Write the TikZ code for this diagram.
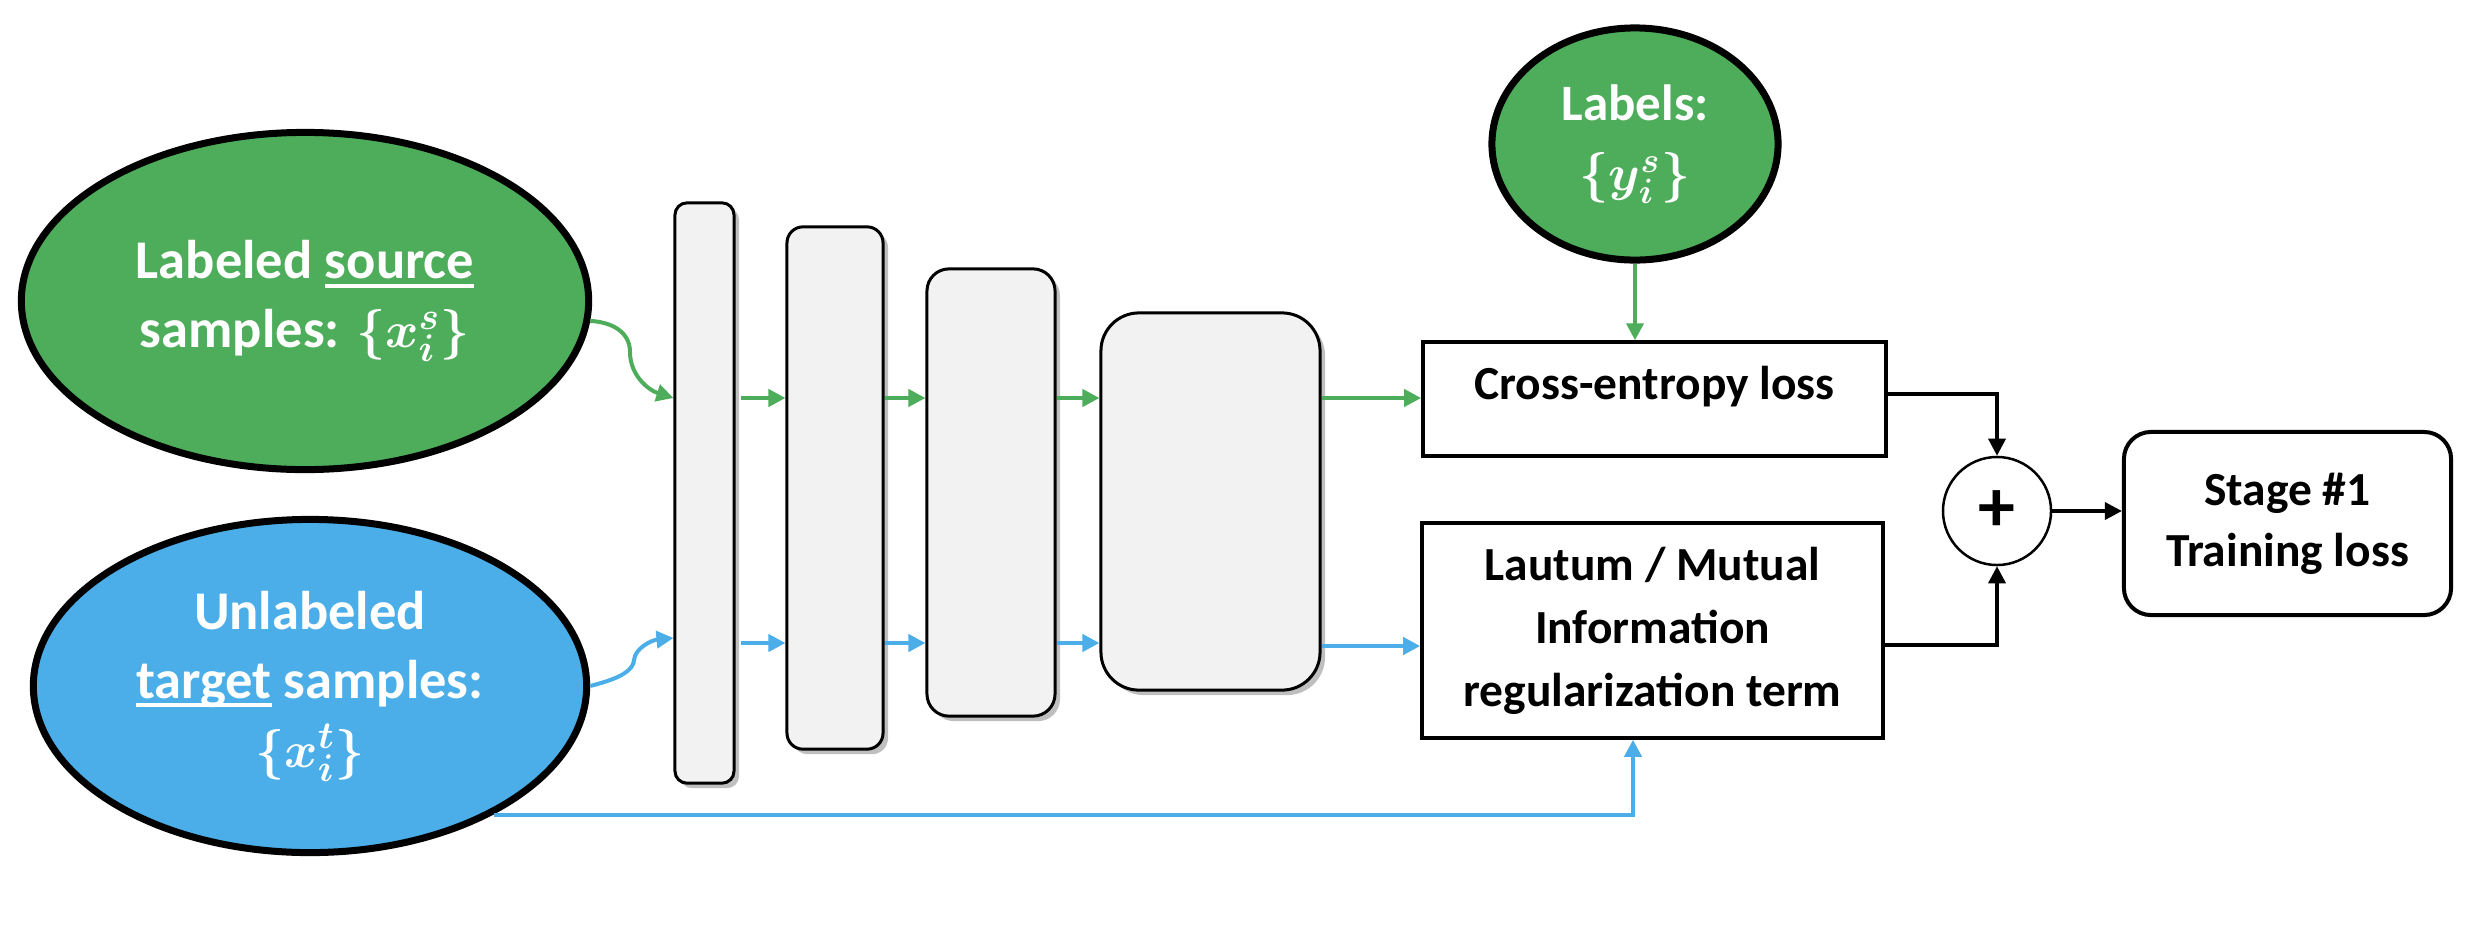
\documentclass[tikz,border=0pt]{standalone}
\usepackage{fontspec}
\usepackage{bm}
\setmainfont{Carlito}
\usetikzlibrary{arrows.meta,shadows,shapes.geometric,calc}
\definecolor{cgreen}{HTML}{4EAD5B}
\definecolor{cblue}{HTML}{4BAEE8}
\definecolor{lgray}{HTML}{F2F2F2}
\newcommand\myul[1]{\setbox0\hbox{#1}\rlap{\rule[-0.17em]{\wd0}{0.075em}}\box0\relax}
\begin{document}
\begin{tikzpicture}[x=0.01cm,y=-0.01cm,
  ell/.style={ellipse, draw=black, line width=0.07cm, inner sep=0pt, text=white, align=center,
              font=\bfseries\fontsize{15.5}{19.6}\selectfont},
  layer/.style={draw=black, line width=0.03cm, fill=lgray, rounded corners=#1, inner sep=0pt,
                drop shadow={shadow xshift=0.05cm, shadow yshift=-0.05cm, fill=black, opacity=0.25}},
  lossbox/.style={draw=black, line width=0.034cm, inner sep=0pt, align=center,
                  font=\bfseries\fontsize{13.5}{17.9}\selectfont},
  garr/.style={draw=cgreen, line width=0.04cm, -{Triangle[length=0.17cm,width=0.17cm]}},
  barr/.style={draw=cblue, line width=0.04cm, -{Triangle[length=0.17cm,width=0.17cm]}},
  karr/.style={draw=black, line width=0.035cm, -{Triangle[length=0.17cm,width=0.17cm]}}
]
\useasboundingbox (0,0) rectangle (2482,930);

% input ellipses
\node[ell, fill=cgreen, minimum width=5.67cm, minimum height=3.37cm] (src) at (305,301)
  {Labeled \myul{source}\\samples: $\bm{\{x_i^s\}}$};
\node[ell, fill=cblue, minimum width=5.53cm, minimum height=3.33cm] (tgt) at (310,686)
  {Unlabeled\\\myul{target} samples:\\$\bm{\{x_i^t\}}$};
\node[ell, fill=cgreen, minimum width=2.86cm, minimum height=2.32cm,
      font=\bfseries\fontsize{14.5}{20}\selectfont] (lab) at (1635,144)
  {Labels:\\$\bm{\{y_i^s\}}$};

% network layers
\node[layer=0.12cm, minimum width=0.59cm, minimum height=5.80cm] (L1) at (704.5,493) {};
\node[layer=0.16cm, minimum width=0.96cm, minimum height=5.22cm] (L2) at (835,488) {};
\node[layer=0.22cm, minimum width=1.28cm, minimum height=4.47cm] (L3) at (991,492.5) {};
\node[layer=0.38cm, minimum width=2.19cm, minimum height=3.77cm] (L4) at (1210.5,501.5) {};

% loss boxes
\node[lossbox, minimum width=4.63cm, minimum height=1.14cm,
      label={[name=cetxt, yshift=0.12cm, font=\bfseries\fontsize{13.5}{17.9}\selectfont]center:Cross-entropy loss}]
  (ce) at (1654.5,399) {};
\node[lossbox, minimum width=4.61cm, minimum height=2.15cm] (lm) at (1652.5,630.5)
  {Lautum / Mutual\\Information\\regularization term};

\node[circle, draw=black, line width=0.025cm, minimum size=1.08cm, inner sep=0pt,
      font=\bfseries\fontsize{21}{21}\selectfont] (plus) at (1997,511) {+};
\node[draw=black, line width=0.04cm, rounded corners=0.27cm, minimum width=3.27cm, minimum height=1.83cm,
      align=center, font=\bfseries\fontsize{13.5}{17.4}\selectfont] (stage) at (2287.5,523.5)
  {Stage \#1\\Training loss};

\coordinate (gy) at (0,398);
\coordinate (by) at (0,643);

% source / target into first layer
\draw[garr] (src.-4) .. controls (612,322) and (630,332) .. (630,352)
  .. controls (630,375) and (648,390) .. (L1.west |- gy);
\draw[barr] (tgt.east) .. controls (605,682) and (633,675) .. (634,660)
  .. controls (635,648) and (652,640) .. ($(L1.west |- by)+(0,-5)$);

% layer to layer
\draw[garr, shorten <=0.05cm] (L1.east |- gy) -- (L2.west |- gy);
\draw[garr] (L2.east |- gy) -- (L3.west |- gy);
\draw[garr] (L3.east |- gy) -- (L4.west |- gy);
\draw[garr] (L4.east |- gy) -- (ce.west |- gy);
\draw[barr, shorten <=0.05cm] (L1.east |- by) -- (L2.west |- by);
\draw[barr] (L2.east |- by) -- (L3.west |- by);
\draw[barr] (L3.east |- by) -- (L4.west |- by);
\draw[barr] ($(L4.east |- by)+(0,3)$) -- ($(lm.west |- by)+(0,3)$);

% labels and target skip connection
\draw[garr] (lab.south) -- (lab.south |- ce.north);
\draw[barr] (tgt.-35) -| ([xshift=-0.195cm]lm.south);

% summation
\draw[karr] ([yshift=0.05cm]ce.east) -| (plus.north);
\draw[karr] ([yshift=-0.145cm]lm.east) -| (plus.south);
\draw[karr] (plus.east) -- (stage.west |- plus.east);
\end{tikzpicture}
\end{document}
